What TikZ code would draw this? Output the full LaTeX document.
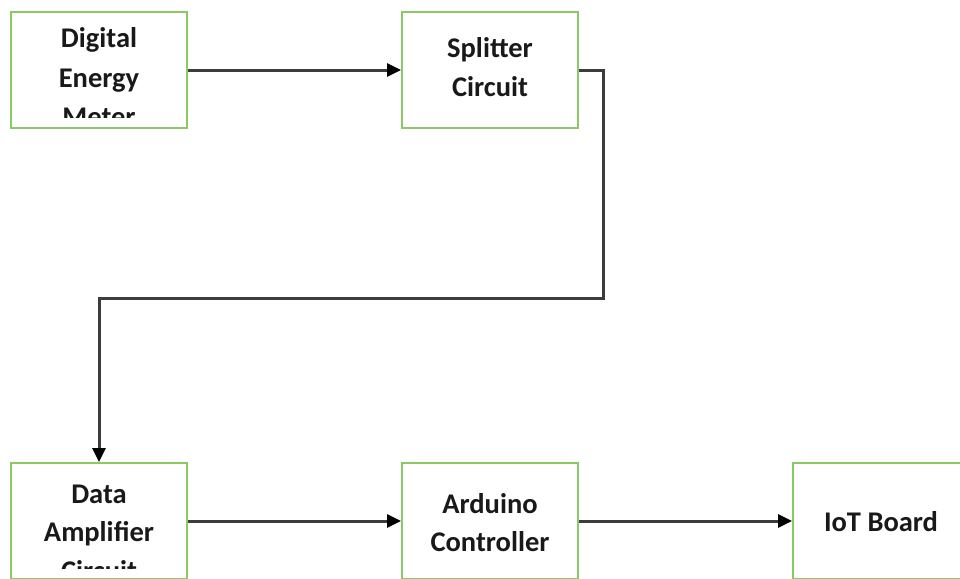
\documentclass[tikz,border=0pt]{standalone}
\usepackage{fontspec}
\setmainfont{Carlito}
\usetikzlibrary{arrows.meta}
\definecolor{boxgreen}{HTML}{8CC965}
\definecolor{wire}{HTML}{3C3C3C}
\begin{document}
\begin{tikzpicture}[x=1pt,y=-1pt,
  block/.style={draw=boxgreen,line width=2pt,fill=white,rectangle,
    minimum width=176pt,minimum height=116pt,inner sep=0pt},
  lbl/.style={font=\fontsize{28.5}{34}\selectfont\bfseries,text=black!90,
    anchor=base,inner sep=0pt},
  link/.style={draw=wire,line width=3pt,
    -{Triangle[length=14pt,width=13pt,fill=black,color=black]}}]
\useasboundingbox (0,0) rectangle (960,578);
% blocks
\node[block] (meter)    at (99,70)  {};
\node[block] (splitter) at (490,70) {};
\node[block] (amp)      at (99,521) {};
\node[block] (arduino)  at (490,521) {};
\node[block] (iot)      at (881,521) {};
% labels (overflowing text is cut at the inner margin)
\begin{scope}
  \clip (12,13) rectangle (186,117);
  \node[lbl] (m1) at (99,48)  {Digital};
  \node[lbl] (m2) at (99,87)  {Energy};
  \node[lbl] (m3) at (99,126) {Meter};
\end{scope}
\node[lbl] (s1) at (490,57) {Splitter};
\node[lbl] (s2) at (490,96) {Circuit};
\begin{scope}
  \clip (12,464) rectangle (186,568);
  \node[lbl] (a1) at (99,503) {Data};
  \node[lbl] (a2) at (99,541) {Amplifier};
  \node[lbl] (a3) at (99,580) {Circuit};
\end{scope}
\node[lbl] (c1) at (490,513) {Arduino};
\node[lbl] (c2) at (490,551) {Controller};
\node[lbl] (t1) at (881,531) {IoT Board};
% connectors
\coordinate (bendA) at (603,70);
\coordinate (bendB) at (603,298);
\coordinate (bendC) at (99,298);
\draw[link] (meter.east) -- (splitter.west);
\draw[link] (splitter.east) -- (bendA) -- (bendB) -- (bendC) -- (amp.north);
\draw[link] (amp.east) -- (arduino.west);
\draw[link] (arduino.east) -- (iot.west);
\end{tikzpicture}
\end{document}
